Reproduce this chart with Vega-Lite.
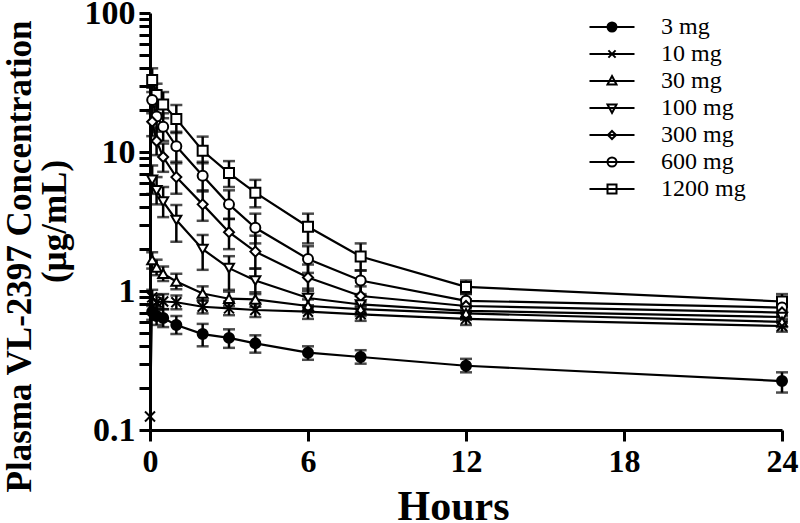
{
  "$schema": "https://vega.github.io/schema/vega-lite/v6.json",
  "autosize": {"type": "none"},
  "padding": {"left": 150, "top": 13, "right": 18, "bottom": 93},
  "width": 632,
  "height": 417,
  "background": "white",
  "config": {
    "view": {"stroke": null},
    "font": "Liberation Serif"
  },
  "data": {"values": [
    {"dose": "1200 mg", "t": 0.083, "c": 33, "lo": 27, "hi": 40},
    {"dose": "1200 mg", "t": 0.25, "c": 25.7, "lo": 21, "hi": 31},
    {"dose": "1200 mg", "t": 0.5, "c": 22, "lo": 17.5, "hi": 27},
    {"dose": "1200 mg", "t": 1, "c": 17.3, "lo": 13.7, "hi": 21.8},
    {"dose": "1200 mg", "t": 2, "c": 10.2, "lo": 8.3, "hi": 12.9},
    {"dose": "1200 mg", "t": 3, "c": 7.06, "lo": 5.6, "hi": 8.6},
    {"dose": "1200 mg", "t": 4, "c": 5.1, "lo": 4.0, "hi": 6.3},
    {"dose": "1200 mg", "t": 6, "c": 2.9, "lo": 2.2, "hi": 3.6},
    {"dose": "1200 mg", "t": 8, "c": 1.77, "lo": 1.41, "hi": 2.2},
    {"dose": "1200 mg", "t": 12, "c": 1.07, "lo": 0.96, "hi": 1.19},
    {"dose": "1200 mg", "t": 24, "c": 0.84, "lo": 0.77, "hi": 0.95},
    {"dose": "600 mg", "t": 0.083, "c": 23.7, "lo": 19, "hi": 29},
    {"dose": "600 mg", "t": 0.25, "c": 18, "lo": 14, "hi": 22},
    {"dose": "600 mg", "t": 0.5, "c": 15.2, "lo": 12, "hi": 19},
    {"dose": "600 mg", "t": 1, "c": 11, "lo": 8.5, "hi": 14},
    {"dose": "600 mg", "t": 2, "c": 6.75, "lo": 5.2, "hi": 8.5},
    {"dose": "600 mg", "t": 3, "c": 4.2, "lo": 3.3, "hi": 5.3},
    {"dose": "600 mg", "t": 4, "c": 2.85, "lo": 2.2, "hi": 3.6},
    {"dose": "600 mg", "t": 6, "c": 1.7, "lo": 1.35, "hi": 2.1},
    {"dose": "600 mg", "t": 8, "c": 1.19, "lo": 0.95, "hi": 1.4},
    {"dose": "600 mg", "t": 12, "c": 0.85, "lo": 0.75, "hi": 0.95},
    {"dose": "600 mg", "t": 24, "c": 0.76, "lo": 0.68, "hi": 0.85},
    {"dose": "300 mg", "t": 0.083, "c": 16.5, "lo": 13, "hi": 20},
    {"dose": "300 mg", "t": 0.25, "c": 12, "lo": 9.5, "hi": 15},
    {"dose": "300 mg", "t": 0.5, "c": 9.2, "lo": 7.2, "hi": 11.5},
    {"dose": "300 mg", "t": 1, "c": 6.6, "lo": 5.0, "hi": 8.3},
    {"dose": "300 mg", "t": 2, "c": 4.2, "lo": 3.2, "hi": 5.3},
    {"dose": "300 mg", "t": 3, "c": 2.65, "lo": 2.0, "hi": 3.3},
    {"dose": "300 mg", "t": 4, "c": 1.92, "lo": 1.45, "hi": 2.5},
    {"dose": "300 mg", "t": 6, "c": 1.25, "lo": 1.0, "hi": 1.55},
    {"dose": "300 mg", "t": 8, "c": 0.92, "lo": 0.78, "hi": 1.08},
    {"dose": "300 mg", "t": 12, "c": 0.78, "lo": 0.7, "hi": 0.87},
    {"dose": "300 mg", "t": 24, "c": 0.7, "lo": 0.63, "hi": 0.77},
    {"dose": "100 mg", "t": 0.083, "c": 6.3, "lo": 5.0, "hi": 8.0},
    {"dose": "100 mg", "t": 0.25, "c": 5.3, "lo": 4.2, "hi": 6.6},
    {"dose": "100 mg", "t": 0.5, "c": 4.4, "lo": 3.4, "hi": 5.6},
    {"dose": "100 mg", "t": 1, "c": 3.24, "lo": 2.26, "hi": 4.15},
    {"dose": "100 mg", "t": 2, "c": 2.0, "lo": 1.42, "hi": 2.53},
    {"dose": "100 mg", "t": 3, "c": 1.46, "lo": 1.02, "hi": 1.78},
    {"dose": "100 mg", "t": 4, "c": 1.19, "lo": 0.95, "hi": 1.45},
    {"dose": "100 mg", "t": 6, "c": 0.89, "lo": 0.76, "hi": 1.04},
    {"dose": "100 mg", "t": 8, "c": 0.8, "lo": 0.7, "hi": 0.92},
    {"dose": "100 mg", "t": 12, "c": 0.72, "lo": 0.65, "hi": 0.8},
    {"dose": "100 mg", "t": 24, "c": 0.65, "lo": 0.59, "hi": 0.72},
    {"dose": "30 mg", "t": 0.083, "c": 1.67, "lo": 1.45, "hi": 1.9},
    {"dose": "30 mg", "t": 0.25, "c": 1.48, "lo": 1.3, "hi": 1.68},
    {"dose": "30 mg", "t": 0.5, "c": 1.33, "lo": 1.18, "hi": 1.5},
    {"dose": "30 mg", "t": 1, "c": 1.17, "lo": 1.03, "hi": 1.33},
    {"dose": "30 mg", "t": 2, "c": 0.96, "lo": 0.85, "hi": 1.08},
    {"dose": "30 mg", "t": 3, "c": 0.88, "lo": 0.78, "hi": 0.99},
    {"dose": "30 mg", "t": 4, "c": 0.87, "lo": 0.77, "hi": 0.98},
    {"dose": "30 mg", "t": 6, "c": 0.78, "lo": 0.7, "hi": 0.87},
    {"dose": "30 mg", "t": 8, "c": 0.74, "lo": 0.66, "hi": 0.83},
    {"dose": "30 mg", "t": 12, "c": 0.69, "lo": 0.62, "hi": 0.77},
    {"dose": "30 mg", "t": 24, "c": 0.6, "lo": 0.55, "hi": 0.66},
    {"dose": "10 mg", "t": 0, "c": 0.125},
    {"dose": "10 mg", "t": 0.083, "c": 0.9, "lo": 0.78, "hi": 1.02},
    {"dose": "10 mg", "t": 0.25, "c": 0.83, "lo": 0.73, "hi": 0.94},
    {"dose": "10 mg", "t": 0.5, "c": 0.84, "lo": 0.74, "hi": 0.95},
    {"dose": "10 mg", "t": 1, "c": 0.83, "lo": 0.74, "hi": 0.93},
    {"dose": "10 mg", "t": 2, "c": 0.77, "lo": 0.69, "hi": 0.86},
    {"dose": "10 mg", "t": 3, "c": 0.75, "lo": 0.67, "hi": 0.84},
    {"dose": "10 mg", "t": 4, "c": 0.73, "lo": 0.65, "hi": 0.82},
    {"dose": "10 mg", "t": 6, "c": 0.71, "lo": 0.63, "hi": 0.79},
    {"dose": "10 mg", "t": 8, "c": 0.68, "lo": 0.61, "hi": 0.76},
    {"dose": "10 mg", "t": 12, "c": 0.63, "lo": 0.57, "hi": 0.7},
    {"dose": "10 mg", "t": 24, "c": 0.56, "lo": 0.51, "hi": 0.61},
    {"dose": "3 mg", "t": 0.083, "c": 0.71, "lo": 0.62, "hi": 0.8},
    {"dose": "3 mg", "t": 0.25, "c": 0.66, "lo": 0.57, "hi": 0.76},
    {"dose": "3 mg", "t": 0.5, "c": 0.64, "lo": 0.55, "hi": 0.74},
    {"dose": "3 mg", "t": 1, "c": 0.57, "lo": 0.49, "hi": 0.66},
    {"dose": "3 mg", "t": 2, "c": 0.49, "lo": 0.4, "hi": 0.58},
    {"dose": "3 mg", "t": 3, "c": 0.46, "lo": 0.39, "hi": 0.53},
    {"dose": "3 mg", "t": 4, "c": 0.42, "lo": 0.36, "hi": 0.48},
    {"dose": "3 mg", "t": 6, "c": 0.36, "lo": 0.32, "hi": 0.4},
    {"dose": "3 mg", "t": 8, "c": 0.335, "lo": 0.3, "hi": 0.375},
    {"dose": "3 mg", "t": 12, "c": 0.29, "lo": 0.26, "hi": 0.325},
    {"dose": "3 mg", "t": 24, "c": 0.225, "lo": 0.186, "hi": 0.26}
  ]},
  "encoding": {
    "x": {
      "field": "t", "type": "quantitative",
      "scale": {"domain": [0, 24], "nice": false, "zero": false},
      "axis": {
        "title": "Hours", "values": [0, 6, 12, 18, 24], "grid": false,
        "domainColor": "black", "domainWidth": 3, "tickColor": "black", "tickWidth": 3, "tickSize": 11,
        "labelFont": "Liberation Serif", "labelFontSize": 32, "labelFontWeight": "bold", "labelColor": "black", "labelPadding": 5,
        "labelFlush": false,
        "titleFont": "Liberation Serif", "titleFontSize": 42, "titleFontWeight": "bold", "titleColor": "black", "titlePadding": 9, "titleX": 303
      }
    },
    "y": {
      "field": "c", "type": "quantitative",
      "scale": {"type": "log", "domain": [0.1, 100], "nice": false},
      "axis": {
        "title": ["Plasma VL-2397 Concentration", "\u200b\u00a0\u00a0\u00a0\u00a0\u00a0\u00a0\u00a0\u00a0(µg/mL)"],
        "values": [0.1, 0.2, 0.3, 0.4, 0.5, 0.6, 0.7, 0.8, 0.9, 1, 2, 3, 4, 5, 6, 7, 8, 9, 10, 20, 30, 40, 50, 60, 70, 80, 90, 100],
        "labelExpr": "indexof([0.1, 1, 10, 100], datum.value) >= 0 ? datum.value : ''",
        "labelOverlap": false, "grid": false,
        "domainColor": "black", "domainWidth": 3, "tickColor": "black", "tickWidth": 3, "tickSize": 11,
        "labelFont": "Liberation Serif", "labelFontSize": 34, "labelFontWeight": "bold", "labelColor": "black", "labelPadding": 4,
        "labelFlush": false,
        "titleFont": "Liberation Serif", "titleFontSize": 35, "titleFontWeight": "bold", "titleColor": "black", "titlePadding": 12, "titleLineHeight": 35, "titleY": 243,
        "encode": {"ticks": {"x2": {"value": {"expr": "indexof([0.1, 1, 10, 100], datum.value) >= 0 ? -11 : -6"}}}}
      }
    }
  },
  "resolve": {"scale": {"shape": "independent"}, "legend": {"shape": "independent"}},
  "layer": [
    {
      "mark": {"type": "line", "color": "black", "strokeWidth": 2.2},
      "encoding": {"detail": {"field": "dose"}}
    },
    {
      "mark": {"type": "rule", "color": "black", "strokeWidth": 2.5},
      "encoding": {"y": {"field": "lo", "type": "quantitative"}, "y2": {"field": "hi"}}
    },
    {
      "mark": {"type": "tick", "orient": "horizontal", "color": "black", "size": 12, "thickness": 2.5},
      "encoding": {"y": {"field": "lo", "type": "quantitative"}}
    },
    {
      "mark": {"type": "tick", "orient": "horizontal", "color": "black", "size": 12, "thickness": 2.5},
      "encoding": {"y": {"field": "hi", "type": "quantitative"}}
    },
    {
      "mark": {"type": "point", "filled": true, "stroke": "black", "strokeWidth": 2, "size": 100, "opacity": 1},
      "encoding": {
        "shape": {
          "field": "dose", "type": "nominal",
          "scale": {
            "domain": ["3 mg", "10 mg", "30 mg", "100 mg", "300 mg", "600 mg", "1200 mg"],
            "range": ["circle", "M-1,-1L1,1M-1,1L1,-1", "triangle-up", "triangle-down", "diamond", "circle", "square"]
          },
          "legend": null
        },
        "fill": {
          "field": "dose", "type": "nominal",
          "scale": {
            "domain": ["3 mg", "10 mg", "30 mg", "100 mg", "300 mg", "600 mg", "1200 mg"],
            "range": ["black", "white", "white", "white", "white", "white", "white"]
          },
          "legend": null
        }
      }
    },
    {
      "mark": {"type": "point", "filled": false, "opacity": 0, "size": 81},
      "encoding": {
        "shape": {
          "field": "dose", "type": "nominal",
          "scale": {
            "domain": ["3 mg", "10 mg", "30 mg", "100 mg", "300 mg", "600 mg", "1200 mg"],
            "range": [
              "M-5,0H5M1,0A1,1 0 1,1 -1,0A1,1 0 1,1 1,0ZM0.6,0A0.6,0.6 0 1,1 -0.6,0A0.6,0.6 0 1,1 0.6,0ZM0.25,0A0.25,0.25 0 1,1 -0.25,0A0.25,0.25 0 1,1 0.25,0Z",
              "M-5,0H5M-0.8,-0.8L0.8,0.8M-0.8,0.8L0.8,-0.8",
              "M-5,0H5M0,-1.1L1,0.8H-1Z",
              "M-5,0H5M0,1.1L1,-0.8H-1Z",
              "M-5,0H5M0,-0.9L0.9,0L0,0.9L-0.9,0Z",
              "M-5,0H5M1,0A1,1 0 1,1 -1,0A1,1 0 1,1 1,0Z",
              "M-5,0H5M-1,-1H1V1H-1Z"
            ]
          },
          "legend": {
            "orient": "none", "legendX": 450, "legendY": 2, "title": null, "padding": 0,
            "labelFont": "Liberation Serif", "labelFontSize": 24, "labelFontWeight": "normal", "labelColor": "black",
            "symbolSize": 81, "symbolStrokeWidth": 2, "symbolStrokeColor": "black", "symbolOpacity": 1,
            "labelOffset": 37, "rowPadding": 3,
            "encode": {"symbols": {
              "fill": {"value": "white"},
              "stroke": {"value": "black"},
              "strokeWidth": {"value": 2},
              "opacity": {"value": 1},
              "fillOpacity": {"value": 1},
              "strokeOpacity": {"value": 1}
            }}
          }
        }
      }
    }
  ]
}
